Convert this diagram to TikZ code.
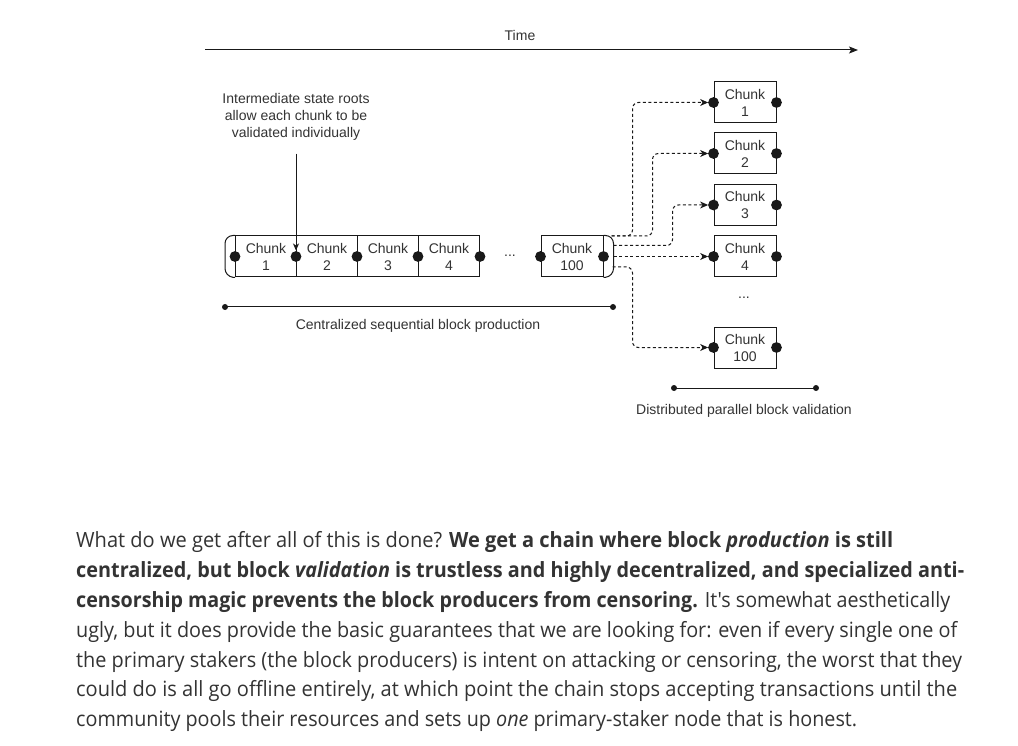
\documentclass[tikz,border=0pt]{standalone}
\usepackage{fontspec}
\setmainfont{Liberation Sans}
\newfontfamily\parafont{Open Sans}
\usetikzlibrary{arrows.meta,calc}
\definecolor{txt}{RGB}{51,51,51}
\definecolor{ln}{RGB}{25,25,25}
\begin{document}
\begin{tikzpicture}[x=1pt,y=-1pt,
  chunk/.style={draw=ln, line width=1pt, minimum width=61pt, minimum height=41pt, inner sep=0pt, align=center, font=\fontsize{14}{17}\selectfont, text=txt},
  lbl/.style={font=\fontsize{14}{17}\selectfont, text=txt, align=center, inner sep=0pt},
  conn/.style={draw=ln, line width=1pt, dash pattern=on 3pt off 2.5pt, rounded corners=6pt, -{Stealth[length=8pt,width=7pt,inset=2.5pt]}},
  solid line/.style={draw=ln, line width=1pt},
  para/.style={font=\parafont\fontsize{21}{25}\selectfont, text=txt, anchor=base west, inner sep=0pt},
]
\useasboundingbox[fill=white] (0,0) rectangle (1018,746);

% Time axis
\node[lbl] (time) at (520,35) {Time};
\coordinate (t0) at (205,50);
\coordinate (t1) at (858,50);
\draw[solid line, -{Stealth[length=9pt,width=7pt,inset=2pt]}] (t0) -- (t1);

% Chunk row
\node[chunk] (c1) at (266,256.5) {Chunk\\1};
\node[chunk] (c2) at (327,256.5) {Chunk\\2};
\node[chunk] (c3) at (388,256.5) {Chunk\\3};
\node[chunk] (c4) at (449,256.5) {Chunk\\4};
\node[chunk, minimum width=62pt] (c100) at (572,256.5) {Chunk\\100};
\node[lbl] (dots1) at (510,256) {...};
\draw[solid line, rounded corners=8pt] (c1.north west) -- ++(-10,0) -- ++(0,41) -- (c1.south west);
\draw[solid line, rounded corners=8pt] (c100.north east) -- ++(10,0) -- ++(0,41) -- (c100.south east);
\foreach \n in {c1,c2,c3,c4,c100}{
  \fill[ln] (\n.west) circle (5.4pt);
}
\fill[ln] (c4.east) circle (5.4pt);
\fill[ln] (c100.east) circle (5.4pt);

% Annotation
\node[lbl] (note) at (296,117) {Intermediate state roots\\allow each chunk to be\\validated individually};
\draw[solid line, -{Stealth[length=7pt,width=6pt,inset=2pt]}] ($(note.south)+(0,13)$) -- ($(c2.west)+(0,-6)$);

% Centralized bar
\coordinate (p0) at (225,307);
\coordinate (p1) at (613,307);
\draw[solid line] (p0) -- (p1);
\fill[ln] (p0) circle (3pt);
\fill[ln] (p1) circle (3pt);
\node[lbl] (cent) at (418,326) {Centralized sequential block production};

% Right column
\node[chunk, minimum width=62pt] (r1) at (745,102.5) {Chunk\\1};
\node[chunk, minimum width=62pt] (r2) at (745,153.5) {Chunk\\2};
\node[chunk, minimum width=62pt] (r3) at (745,205) {Chunk\\3};
\node[chunk, minimum width=62pt] (r4) at (745,256.5) {Chunk\\4};
\node[chunk, minimum width=62pt] (r100) at (745,347.5) {Chunk\\100};
\node[lbl] (dots2) at (744,298) {...};
\foreach \n in {r1,r2,r3,r4,r100}{
  \fill[ln] (\n.west) circle (5.4pt);
  \fill[ln] (\n.east) circle (5.4pt);
}

% Distributed bar
\coordinate (q0) at (674,388);
\coordinate (q1) at (816,388);
\draw[solid line] (q0) -- (q1);
\fill[ln] (q0) circle (3pt);
\fill[ln] (q1) circle (3pt);
\node[lbl] (dist) at (744,411) {Distributed parallel block validation};

% Dashed connectors
\coordinate (s1) at ($(c100.north east)+(8,0.5)$);
\coordinate (s3) at ($(c100.east)+(10,-11)$);
\coordinate (s4) at ($(c100.east)+(10,0)$);
\coordinate (s5) at ($(c100.east)+(9,10.5)$);
\draw[conn] (s1) -| ($(r1.west)+(-81,0)$) -- ([xshift=-5.4pt]r1.west);
\draw[conn] (s1) -| ($(r2.west)+(-61,0)$) -- ([xshift=-5.4pt]r2.west);
\draw[conn] (s3) -| ($(r3.west)+(-41,0)$) -- ([xshift=-5.4pt]r3.west);
\draw[conn] (s4) -- ([xshift=-5.4pt]r4.west);
\draw[conn] (s5) -| ($(r100.west)+(-81,0)$) -- ([xshift=-5.4pt]r100.west);

% Paragraph
\node[para] (l1) at (76,547) {\resizebox{817pt}{\height}{What do we get after all of this is done? \textbf{We get a chain where block \textit{production} is still}}};
\node[para] (l2) at (76,577) {\resizebox{888pt}{\height}{\textbf{centralized, but block \textit{validation} is trustless and highly decentralized, and specialized anti-}}};
\node[para] (l3) at (76,607) {\resizebox{874pt}{\height}{\textbf{censorship magic prevents the block producers from censoring.} It's somewhat aesthetically}};
\node[para] (l4) at (76,637) {\resizebox{881pt}{\height}{ugly, but it does provide the basic guarantees that we are looking for: even if every single one of}};
\node[para] (l5) at (76,667) {\resizebox{886pt}{\height}{the primary stakers (the block producers) is intent on attacking or censoring, the worst that they}};
\node[para] (l6) at (76,696) {\resizebox{881pt}{\height}{could do is all go offline entirely, at which point the chain stops accepting transactions until the}};
\node[para] (l7) at (76,726) {\resizebox{781pt}{\height}{community pools their resources and sets up \textit{one} primary-staker node that is honest.}};
\end{tikzpicture}
\end{document}
